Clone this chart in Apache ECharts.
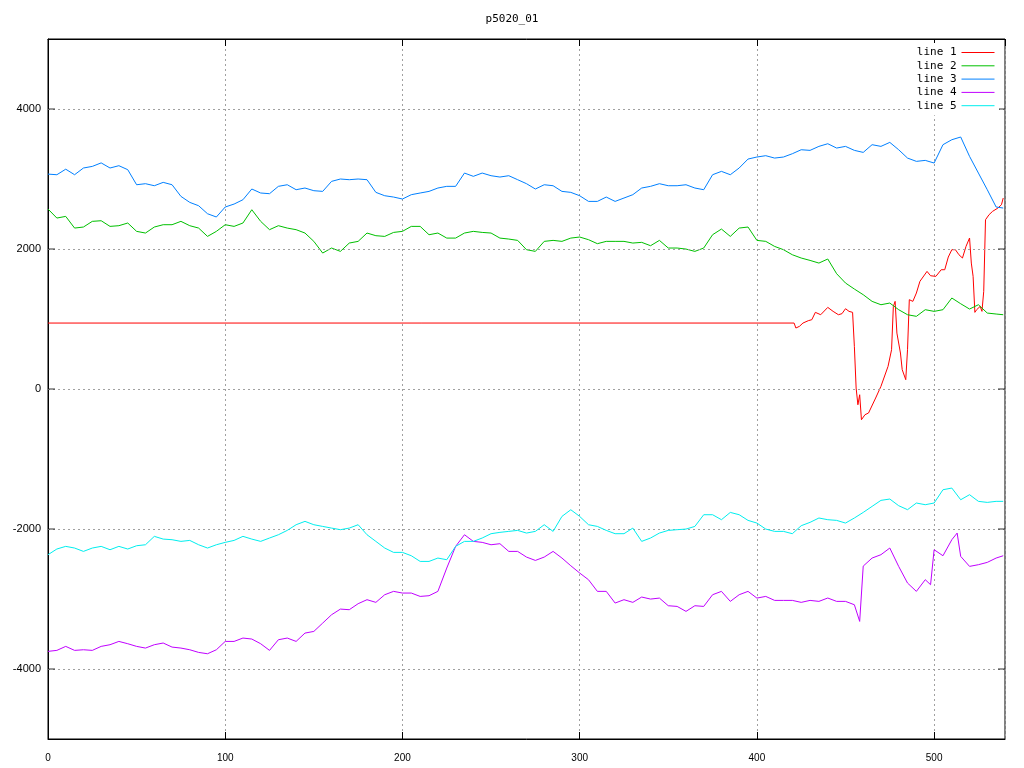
<!DOCTYPE html>
<html><head><meta charset="utf-8">
<script src="https://cdn.jsdelivr.net/npm/echarts@6/dist/echarts.min.js"></script>
<style>html,body{margin:0;padding:0;background:#fff}#c{width:1024px;height:768px}</style>
</head><body><div id="c"></div>
<script>
const chartTitle = 'p5020_01';
const seriesNames = ['line 1', 'line 2', 'line 3', 'line 4', 'line 5'];
const yTickValues = [-4000, -2000, 0, 2000, 4000];

const xs = [0,5,10,15,20,25,30,35,40,45,50,55,60,65,70,75,80,85,90,95,100,105,110,115,120,125,130,135,
140,145,150,155,160,165,170,175,180,185,190,195,200,205,210,215,220,225,230,235,240,245,250,255,260,265,270,
275,280,285,290,295,300,305,310,315,320,325,330,335,340,345,350,355,360,365,370,375,380,385,390,395,400,405,
410,415,420,425,430,435,440,445,450,455,460,465,470,475,480,485,490,495,500,505,510,515,520,525,530,535,539];

const line1X = [0,421,422,424,426,429,431,433,436,440,443,446,448,450,452,454,455,456,457,458,459,461,463,467,470,474,476,477,478,479,481,482,484,485,486,488,490,492,496,498,501,504,506,508,510,512,514,516,518,520,521,522,523,524,526,527,528,529,531,533,536,538,539];
const line1Y = [942,942,871,895,942,976,990,1095,1061,1166,1109,1061,1076,1147,1109,1095,609,13,-225,-82,-439,-367,-343,-129,38,323,561,1180,1252,799,514,276,133,561,1276,1252,1371,1538,1680,1618,1609,1704,1704,1885,1990,1990,1918,1871,2037,2157,1799,1609,1095,1133,1180,1109,1395,2418,2490,2538,2585,2633,2728];

const line2Y = [2571,2442,2466,2299,2314,2395,2404,2323,2333,2371,2252,2228,2314,2347,2347,2395,2333,2299,2180,2252,2347,2323,2371,2561,2395,2276,2333,2299,
2276,2228,2109,1942,2014,1966,2085,2109,2228,2190,2180,2237,2252,2323,2323,2204,2228,2156,2156,2228,2252,2237,2228,2156,2142,2123,1990,
1966,2109,2123,2109,2156,2171,2133,2076,2109,2109,2109,2085,2095,2047,2123,2014,2014,1999,1966,2014,2204,2285,2180,2299,2314,2123,2109,
2037,1990,1918,1871,1837,1799,1857,1647,1514,1428,1347,1252,1204,1228,1133,1061,1038,1133,1109,1133,1300,1218,1142,1204,1085,1071,1061];

const line3Y = [3070,3061,3140,3061,3157,3180,3230,3157,3190,3133,2918,2933,2904,2952,2918,2752,2666,2618,2504,2457,2600,2642,2704,2857,2800,2790,2895,2918,
2847,2871,2833,2823,2966,3000,2990,3000,2990,2809,2761,2742,2714,2776,2800,2823,2871,2895,2895,3085,3038,3085,3047,3028,3047,2990,2933,
2857,2918,2904,2823,2809,2761,2680,2680,2742,2680,2728,2776,2871,2895,2933,2904,2904,2918,2871,2847,3061,3109,3061,3157,3285,3314,3333,
3299,3314,3361,3418,3409,3466,3504,3442,3466,3409,3380,3490,3466,3523,3418,3299,3252,3266,3228,3490,3561,3600,3323,3085,2847,2600,2585];

const line4X = [0,5,10,15,20,25,30,35,40,45,50,55,60,65,70,75,80,85,90,95,100,105,110,115,120,125,130,135,
140,145,150,155,160,165,170,175,180,185,190,195,200,205,210,215,220,225,230,235,240,245,250,255,260,265,270,
275,280,285,290,295,300,305,310,315,320,325,330,335,340,345,350,355,360,365,370,375,380,385,390,395,400,405,
410,415,420,425,430,435,440,445,450,455,458,460,465,470,475,480,485,490,495,498,500,505,510,513,515,520,525,530,535,539];
const line4Y = [-3748,-3734,-3677,-3734,-3725,-3734,-3677,-3653,-3606,-3639,-3677,-3701,-3653,-3629,-3687,-3701,-3725,-3763,-3782,-3725,-3606,-3606,-3558,-3572,-3639,-3734,-3582,-3558,
-3606,-3487,-3463,-3344,-3225,-3144,-3153,-3067,-3010,-3048,-2939,-2891,-2915,-2915,-2963,-2953,-2891,-2558,-2248,-2082,-2177,-2191,-2225,-2210,-2320,-2320,-2401,
-2449,-2401,-2320,-2415,-2525,-2629,-2725,-2891,-2891,-3058,-3010,-3048,-2972,-3001,-2987,-3096,-3106,-3177,-3096,-3106,-2939,-2891,-3034,-2939,-2891,-2987,-2963,
-3020,-3020,-3020,-3048,-3020,-3034,-2986,-3034,-3034,-3082,-3320,-2530,-2415,-2367,-2272,-2534,-2772,-2891,-2724,-2796,-2296,-2382,-2153,-2058,-2391,-2534,-2510,-2477,-2415,-2382];

const line5Y = [-2367,-2286,-2248,-2272,-2320,-2272,-2248,-2296,-2248,-2286,-2239,-2225,-2105,-2144,-2153,-2177,-2163,-2225,-2272,-2225,-2191,-2163,-2105,-2144,-2177,-2129,-2082,-2020,
-1939,-1891,-1939,-1963,-1987,-2010,-1987,-1939,-2082,-2177,-2272,-2334,-2334,-2382,-2463,-2463,-2415,-2439,-2248,-2177,-2177,-2129,-2067,-2048,-2034,-2020,-2058,
-2034,-1939,-2034,-1820,-1725,-1820,-1939,-1963,-2020,-2067,-2067,-1987,-2177,-2129,-2058,-2020,-2010,-2001,-1963,-1796,-1796,-1867,-1763,-1796,-1877,-1915,-2001,
-2034,-2034,-2067,-1953,-1905,-1843,-1867,-1877,-1915,-1843,-1763,-1677,-1591,-1572,-1667,-1724,-1629,-1653,-1629,-1439,-1415,-1582,-1510,-1605,-1620,-1605,-1605];

const colors = ['#ff0000', '#00c000', '#0080ff', '#c000ff', '#00eeee'];

function zip(a, b) { return a.map((v, i) => [v, b[i]]); }
const seriesData = [
  zip(line1X, line1Y),
  zip(xs, line2Y),
  zip(xs, line3Y),
  zip(line4X, line4Y),
  zip(xs, line5Y)
];

const labelFont = 'Liberation Sans';
const chart = echarts.init(document.getElementById('c'), null, {renderer: 'canvas'});

const lineSeries = seriesNames.map((name, i) => ({
  name: name,
  type: 'line',
  data: seriesData[i],
  symbol: 'none',
  showSymbol: false,
  color: colors[i],
  lineStyle: {width: 1, color: colors[i]},
  emphasis: {disabled: true},
  z: 3 + i
}));

const tickStyle = {color: '#000'};
const leftTicks = {
  type: 'scatter', name: 'ticksL', silent: true, clip: false,
  data: yTickValues.map(v => [0, v]),
  symbol: 'rect', symbolSize: [7, 1], symbolOffset: [3.5, 0],
  itemStyle: tickStyle, z: 20,
  markLine: {
    silent: true, symbol: 'none', label: {show: false},
    lineStyle: {color: '#a0a0a0', type: [2, 3], width: 1},
    data: yTickValues.map(v => ({yAxis: v}))
  }
};
const rightTicks = {
  type: 'scatter', name: 'ticksR', silent: true, clip: false,
  data: yTickValues.map(v => [540, v]),
  symbol: 'rect', symbolSize: [7, 1], symbolOffset: [-3.5, 0],
  itemStyle: tickStyle, z: 20
};

chart.setOption({
  animation: false,
  backgroundColor: '#fff',
  title: {
    text: chartTitle, left: 'center', top: 9,
    textStyle: {fontSize: 11, fontWeight: 'normal', color: '#000', fontFamily: 'DejaVu Sans Mono'}
  },
  legend: {
    data: seriesNames,
    orient: 'vertical', right: 25, top: 43, align: 'right',
    padding: [3, 4, 3, 4],
    backgroundColor: '#fff',
    z: 40,
    itemWidth: 33, itemHeight: 10, itemGap: 0.3,
    itemStyle: {opacity: 0},
    lineStyle: {width: 1},
    textStyle: {fontSize: 11, lineHeight: 13, color: '#000', fontFamily: 'DejaVu Sans Mono'},
    selectedMode: false
  },
  grid: {left: 48, right: 19, top: 39, bottom: 29, show: true, borderColor: '#000', borderWidth: 1, backgroundColor: 'transparent'},
  xAxis: [{
    type: 'value', min: 0, max: 540, interval: 100,
    axisLine: {show: true, onZero: false, lineStyle: {color: '#000'}},
    axisTick: {show: true, inside: true, length: 7, lineStyle: {color: '#000'}},
    axisLabel: {color: '#000', fontSize: 10, margin: 14, fontFamily: labelFont, showMaxLabel: false},
    splitLine: {show: true, lineStyle: {color: '#a0a0a0', type: [2, 3], width: 1}}
  }, {
    type: 'value', min: 0, max: 540, interval: 100, position: 'top',
    axisLine: {show: true, onZero: false, lineStyle: {color: '#000'}},
    axisTick: {show: true, inside: true, length: 7, lineStyle: {color: '#000'}},
    axisLabel: {show: false}, splitLine: {show: false}
  }],
  yAxis: {
    type: 'value', min: -5000, max: 5000, interval: 1000,
    axisLine: {show: true, onZero: false, lineStyle: {color: '#000'}},
    axisTick: {show: false},
    axisLabel: {
      color: '#000', fontSize: 11, margin: 7, fontFamily: labelFont,
      formatter: v => (v % 2000 === 0 ? String(v) : '')
    },
    splitLine: {show: false}
  },
  series: [leftTicks, rightTicks].concat(lineSeries)
});
</script>
</body></html>
